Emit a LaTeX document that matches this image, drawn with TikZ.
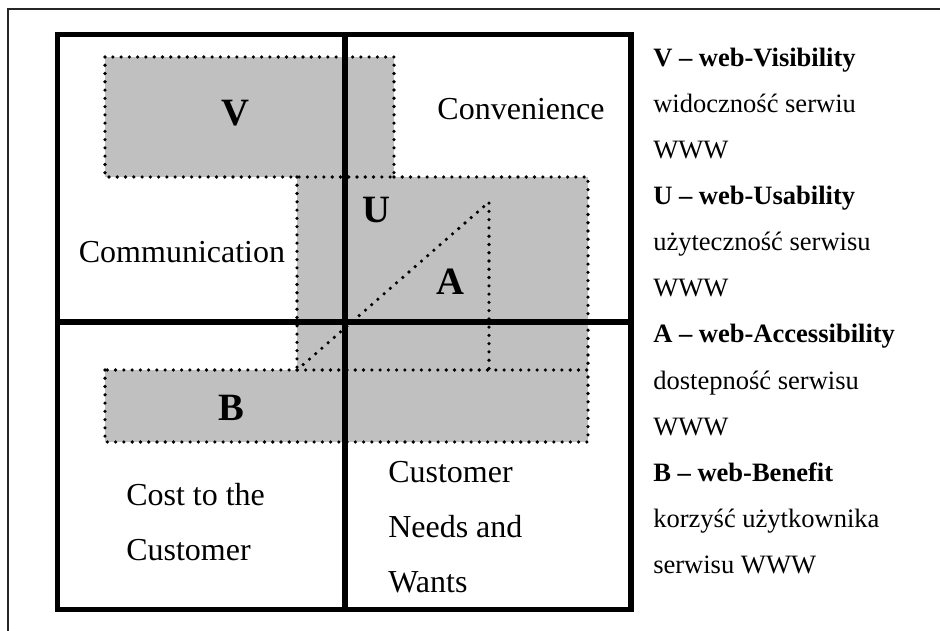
\documentclass[tikz,border=0pt]{standalone}
\usepackage{fontspec}
\setmainfont{Liberation Serif}
\usetikzlibrary{positioning}
\definecolor{boxgray}{HTML}{C0C0C0}
\begin{document}
\begin{tikzpicture}[x=0.75pt, y=-0.75pt, node distance=34.5pt,
        thickline/.style = {line width=4pt},
        dotline/.style = {line width=2.7pt, line cap=round, dash pattern=on 0pt off 6.2pt},
        letter/.style = {font=\fontsize{29}{33}\selectfont\bfseries, inner sep=0pt},
        quadtext/.style = {font=\fontsize{24}{28}\selectfont, inner sep=0pt, anchor=base west},
        legtext/.style = {font=\fontsize{19.9}{23}\selectfont, inner sep=0pt, anchor=base west},
        legbold/.style = {legtext, font=\fontsize{19.9}{23}\selectfont\bfseries}]
    \useasboundingbox (0,0) rectangle (940,631);
    % page frame
    \draw[line width=1.4pt, black!85] (8,631) -- (8,9) -- (940,9);
    % shaded areas V, U/A, B
    \fill[boxgray] (105,57) rectangle (394,177);
    \fill[boxgray] (297,177) rectangle (588,370);
    \fill[boxgray] (105,370) rectangle (588,442);
    \draw[dotline] (105,57) rectangle (394,177);
    \draw[dotline] (394,177) -- (588,177) -- (588,370);
    \draw[dotline] (297,177) -- (297,370);
    \draw[dotline] (105,370) rectangle (588,442);
    \draw[dotline] (297,370) -- (489,202) -- (489,370);
    % the four C's
    \draw[thickline] (57.5,34.5) rectangle (631,609.5);
    \draw[thickline] (345,34.5) -- (345,609.5);
    \draw[thickline] (57.5,322) -- (631,322);

    \node[letter] (V) at (235,113) {V};
    \node[letter] (U) at (376,210) {U};
    \node[letter] (A) at (450,282) {A};
    \node[letter] (B) at (231,408) {B};

    \node[quadtext, anchor=base] (conv) at (521,120) {Convenience};
    \node[quadtext, anchor=base] (comm) at (182,263) {Communication};
    \node[quadtext] (cost1) at (126,505) {Cost to the};
    \node[quadtext, below=41.25pt of cost1.base west, anchor=base west] (cost2) {Customer};
    \node[quadtext] (need1) at (388,482) {Customer};
    \node[quadtext, below=41.25pt of need1.base west, anchor=base west] (need2) {Needs and};
    \node[quadtext, below=41.25pt of need2.base west, anchor=base west] (need3) {Wants};

    % legend
    \node[legbold] (vis) at (653,67) {V – web-Visibility};
    \node[legtext, below=of vis.base west, anchor=base west] (vis2) {widoczność serwiu};
    \node[legtext, below=of vis2.base west, anchor=base west] (vis3) {WWW};
    \node[legbold, below=of vis3.base west, anchor=base west] (usa) {U – web-Usability};
    \node[legtext, below=of usa.base west, anchor=base west] (usa2) {użyteczność serwisu};
    \node[legtext, below=of usa2.base west, anchor=base west] (usa3) {WWW};
    \node[legbold, below=of usa3.base west, anchor=base west] (acc) {A – web-Accessibility};
    \node[legtext, below=of acc.base west, anchor=base west] (acc2) {dostepność serwisu};
    \node[legtext, below=of acc2.base west, anchor=base west] (acc3) {WWW};
    \node[legbold, below=of acc3.base west, anchor=base west] (ben) {B – web-Benefit};
    \node[legtext, below=of ben.base west, anchor=base west] (ben2) {korzyść użytkownika};
    \node[legtext, below=of ben2.base west, anchor=base west] (ben3) {serwisu WWW};
\end{tikzpicture}
\end{document}
